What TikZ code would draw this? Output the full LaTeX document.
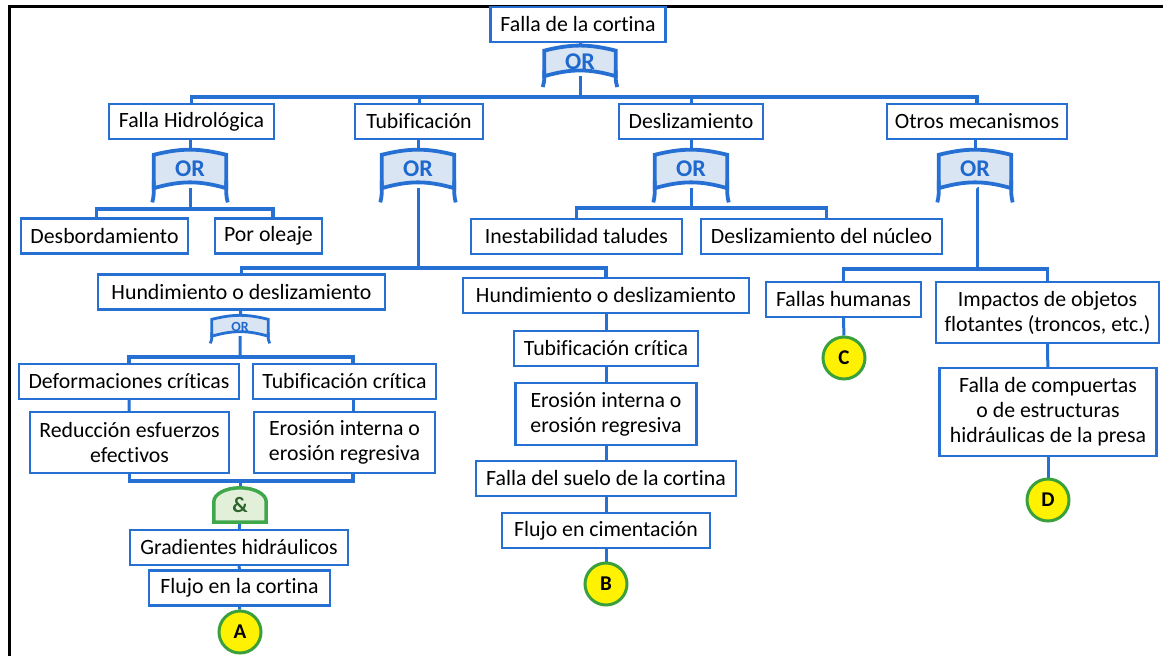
\documentclass[tikz,border=0pt]{standalone}
\usepackage{fontspec}
\setmainfont{Carlito}[Ligatures={NoCommon}]
\usetikzlibrary{positioning,calc}
\definecolor{boxblue}{RGB}{38,112,212}
\definecolor{gatefill}{RGB}{218,229,243}
\definecolor{orblue}{RGB}{30,104,206}
\definecolor{andgreen}{RGB}{64,168,76}
\definecolor{andfill}{RGB}{226,240,217}
\definecolor{andtext}{RGB}{46,100,46}
\definecolor{dotgreen}{RGB}{58,160,60}
\pgfdeclarelayer{links}
\pgfdeclarelayer{gates}
\pgfsetlayers{links,gates,main}

\newcommand{\orshape}[2][3.8pt]{%
  \path[draw=boxblue, fill=gatefill, line width=#1]
    let \p1=(#2.north west), \p2=(#2.south east) in
    (\x1,{\y1-0.13*(\y1-\y2)}) to[bend left=14] (\x2,{\y1-0.13*(\y1-\y2)})
    -- (\x2,\y2) to[bend right=16] (\x1,\y2) -- cycle;
  \path[draw=boxblue, line width=#1]
    let \p1=(#2.north west), \p2=(#2.south east) in
    (\x1,{\y2+0.2*(\y1-\y2)}) .. controls (\x1,{\y2-0.2*(\y1-\y2)}) .. ({\x1-1.5pt},{\y2-0.37*(\y1-\y2)})
    (\x2,{\y2+0.2*(\y1-\y2)}) .. controls (\x2,{\y2-0.2*(\y1-\y2)}) .. ({\x2+1.5pt},{\y2-0.37*(\y1-\y2)});
}
\newcommand{\andshape}[1]{%
  \path[draw=andgreen, fill=andfill, line width=3.5pt]
    let \p1=(#1.north west), \p2=(#1.south east) in
    (\x1,\y2) -- (\x1,{\y1-14pt})
    arc[start angle=180, end angle=0, x radius={(\x2-\x1)/2}, y radius=14pt]
    -- (\x2,\y2) -- cycle;
}

\begin{document}
\begin{tikzpicture}[x=1pt,y=-1pt,
    box/.style={draw=boxblue, line width=2.2pt, fill=white, align=center,
      inner sep=2pt, minimum height=35, font=\fontsize{21.8}{25}\selectfont},
    orgate/.style={inner sep=0, text=orblue, font=\fontsize{24}{24}\selectfont\bfseries},
    andgate/.style={inner sep=0, text=andtext, font=\fontsize{22}{22}\selectfont\bfseries},
    dot/.style={circle, fill=yellow, draw=dotgreen, line width=3pt, minimum size=42,
      inner sep=0, font=\fontsize{21}{21}\selectfont\bfseries},
    link/.style={draw=boxblue, line width=3pt},
    bus/.style={draw=boxblue, line width=3.6pt}]
\useasboundingbox (0,0) rectangle (1163,656);
\draw[line width=3pt] (9,656) -- (9,6) -- (1163,6);

\node[box, minimum width=175] (top) at (578,24.5) {Falla de la cortina};
\node[orgate, minimum width=71, minimum height=29] (g0) at (580,61.5) {OR};

\node[box, minimum width=165] (hydro) at (191.5,121.5) {Falla Hidrológica};
\node[box, minimum width=128] (tubi) at (419,121.5) {Tubificación};
\node[box, minimum width=144] (desl) at (691,121.5) {Deslizamiento};
\node[box, minimum width=180] (otros) at (977,121.5) {Otros mecanismos};

\node[orgate, minimum width=72, minimum height=38] (g1) at (190,169) {OR};
\node[orgate, minimum width=72, minimum height=38] (g2) at (418,169) {OR};
\node[orgate, minimum width=72, minimum height=38] (g3) at (691,169) {OR};
\node[orgate, minimum width=72, minimum height=38] (g4) at (975,169) {OR};

\node[box, minimum width=167] (desb) at (104.5,236) {Desbordamiento};
\node[box, minimum width=107] (oleaje) at (268.5,236) {Por oleaje};
\node[box, minimum width=211] (inest) at (576.5,236.5) {Inestabilidad taludes};
\node[box, minimum width=241] (nucleo) at (821.5,236.5) {Deslizamiento del núcleo};

\node[box, minimum width=287] (hund1) at (241.5,292) {Hundimiento o deslizamiento};
\node[box, minimum width=286] (hund2) at (606,295.5) {Hundimiento o deslizamiento};
\node[box, minimum width=155] (humanas) at (843.5,299.5) {Fallas humanas};
\node[box, minimum width=223, minimum height=61] (impactos) at (1047.5,312.5)
  {Impactos de objetos\\flotantes (troncos, etc.)};

\node[orgate, minimum width=56, minimum height=19, font=\fontsize{14}{14}\selectfont\bfseries]
  (g5) at (240,326.5) {OR};
\node[box, minimum width=220] (deform) at (129,381.5) {Deformaciones críticas};
\node[box, minimum width=183] (tcrit1) at (344.5,381.5) {Tubificación crítica};
\node[box, minimum width=199, minimum height=61] (reduc) at (129.5,442.5)
  {Reducción esfuerzos\\efectivos};
\node[box, minimum width=181, minimum height=61] (eros1) at (344.5,442.5)
  {Erosión interna o\\erosión regresiva};
\node[andgate, minimum width=52, minimum height=34] (andg) at (240,505) {\&};
\node[box, minimum width=218] (grad) at (239,547.5) {Gradientes hidráulicos};
\node[box, minimum width=181] (flujo1) at (239.5,588) {Flujo en la cortina};
\node[dot] (A) at (240,632) {A};

\node[box, minimum width=184] (tcrit2) at (606,348.5) {Tubificación crítica};
\node[box, minimum width=181, minimum height=62] (eros2) at (606,414)
  {Erosión interna o\\erosión regresiva};
\node[box, minimum width=260] (suelo) at (606,478.5) {Falla del suelo de la cortina};
\node[box, minimum width=208] (cimen) at (606,530.5) {Flujo en cimentación};
\node[dot] (B) at (606,584) {B};

\node[dot] (C) at (844,358) {C};
\node[box, minimum width=217, minimum height=88] (compuertas) at (1048,412)
  {Falla de compuertas\\o de estructuras\\hidráulicas de la presa};
\node[dot] (D) at (1048,500) {D};

\begin{pgfonlayer}{gates}
\orshape{g0}
\orshape{g1}
\orshape{g2}
\orshape{g3}
\orshape{g4}
\orshape[2.8pt]{g5}
\andshape{andg}
\end{pgfonlayer}

\begin{pgfonlayer}{links}
\coordinate (bus0) at (580,97);
\coordinate (bus1) at (190,209);
\coordinate (bus2) at (418,268);
\coordinate (bus3) at (691,208);
\coordinate (bus4) at (977,269);
\coordinate (bus5) at (240,357);
\coordinate (bus6) at (240,481);
\draw[link] (top.south -| g0) -- (g0) -- (bus0);
\draw[bus] (hydro.north) |- (bus0) -| (otros.north);
\draw[link] (tubi.north) -- (tubi.north |- bus0);
\draw[link] (desl.north) -- (desl.north |- bus0);
\draw[link] (hydro.south -| g1) -- (g1) -- (bus1);
\draw[link] (tubi.south -| g2) -- (g2) -- (bus2);
\draw[link] (desl.south -| g3) -- (g3) -- (bus3);
\draw[link] (otros.south -| g4) -- (g4) -- (bus4 |- g4.south) -- (bus4);
\draw[bus] ([xshift=-8pt]desb.north) |- (bus1) -| ([xshift=4.5pt]oleaje.north);
\draw[bus] (inest.north) |- (bus3) -| ([xshift=5pt]nucleo.north);
\draw[bus] (hund1.north) |- (bus2) -| (hund2.north);
\draw[bus] (humanas.north) |- (bus4) -| (impactos.north);
\draw[link] (hund1) -- (g5) -- (bus5);
\draw[bus] (deform.north) |- (bus5) -| ([xshift=8.5pt]tcrit1.north);
\draw[link] ([xshift=8.5pt]tcrit1.south) -- ([xshift=8.5pt]eros1.north);
\draw[bus] (reduc.south) |- (bus6) -| ([xshift=8.5pt]eros1.south);
\path[link] (deform) edge (reduc)
  (bus6) edge (andg)
  (andg) edge (grad)
  (grad) edge (flujo1)
  (flujo1) edge (A)
  (hund2) edge (tcrit2)
  (tcrit2) edge (eros2)
  (eros2) edge (suelo)
  (suelo) edge (cimen)
  (cimen) edge (B)
  (humanas) edge (C)
  (impactos) edge (compuertas)
  (compuertas) edge (D);
\end{pgfonlayer}
\end{tikzpicture}
\end{document}
